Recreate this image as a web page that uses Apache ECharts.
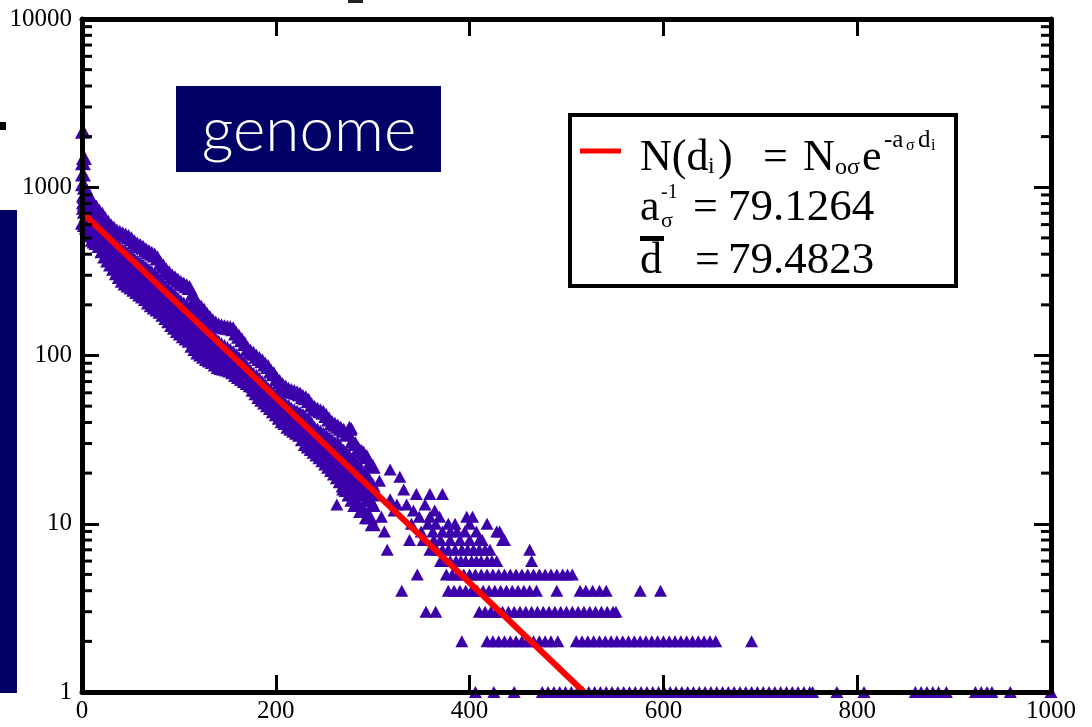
<!DOCTYPE html>
<html><head><meta charset="utf-8">
<script src="https://cdn.jsdelivr.net/npm/echarts@6/dist/echarts.min.js"></script>
<style>html,body{margin:0;padding:0;background:#fff}#chart{width:1092px;height:727px}</style>
</head><body><div id="chart"></div>
<script>
// ---- tick labels ----
const xTickLabels = [0, 200, 400, 600, 800, 1000];
const yTickLabels = [1, 10, 100, 1000, 10000];
const yMinorTickValues = [2,3,4,5,6,7,8,9,20,30,40,50,60,70,80,90,200,300,400,500,600,700,800,900,2000,3000,4000,5000,6000,7000,8000,9000];

// ---- dense band of the histogram (distance d, counts read at several heights) ----
const bandDist = [1,2,3,5,7,9,11,13,15,18,21,24,27,30,33,36,39,42,45,48,51,54,57,60,63,66,69,72,75,78,81,84,87,90,93,96,99,102,105,108,111,114,117,120,123,126,129,132,135,138,141,144,147,150,153,156,159,162,165,168,171,174,177,180,183,186,189,192,195,198,201,204,207,210,213,216,219,222,225,228,231,234,237,240,243,246,249,252,255,258,261,264,267,270,273,276,279,282,285,288,291,294,297,300];
const bandUpper = [2150,1500,1000,950,870,830,800,780,760,720,690,650,620,590,570,550,540,530,520,510,495,475,460,450,440,425,415,405,395,380,355,340,322,310,298,290,280,272,266,260,254,232,216,200,194,186,176,168,161,156,152,150,148,147,146,144,136,130,124,118,110,106,103,99,96,93,89,86,81,78,73,70,67,65,63,62,61,60,59,57,56,54,51,49,48,47,46,44,42,40,39,38,37,36,34,37,31,30,28,27,26,25,23,22];
const bandMidHigh = [1400,900,880,800,760,720,690,650,640,610,580,550,520,490,470,450,430,420,410,395,385,370,360,350,340,330,320,310,300,290,275,262,250,242,232,224,216,208,202,196,190,178,168,160,153,147,140,134,128,124,120,116,113,110,107,104,100,96,92,88,84,80,77,75,72,69,66,63,61,59,57,55,53,51,50,48,47,46,45,44,42,41,39,37,36,35,34,33,32,31,30,30,28,27,26,25,24,23,22,21,20,19,18,17];
const bandCenter = [1200,820,800,740,700,665,635,605,590,565,540,510,480,455,435,415,395,382,368,356,346,334,324,314,305,295,286,277,268,260,248,236,225,218,209,201,194,187,181,175,170,160,152,145,139,133,127,122,117,113,109,106,103,100,97,95,92,88,85,81,78,75,72,69,66,63,61,58,56,54,52,50,48,47,46,44,43,42,41,40,38,37,35,34,33,32,31,30,29,28,27,26,25,24,23,22,21,20,19,18,17,16,16,15];
const bandMidLow = [1050,760,720,690,640,610,580,560,540,520,500,470,440,420,400,380,360,345,330,320,310,300,290,280,272,262,255,245,238,230,222,212,202,195,186,178,171,165,160,154,150,142,136,130,124,119,114,110,106,102,99,96,93,90,88,86,84,81,78,75,72,69,66,63,60,58,56,54,52,50,48,46,44,43,42,40,39,38,37,36,34,33,32,31,30,29,28,27,26,25,24,23,22,21,20,19,18,17,16,15,15,14,14,13];
const bandLower = [620,630,600,580,560,520,490,480,470,450,420,390,370,350,330,310,295,280,270,262,255,248,240,232,226,218,208,200,194,189,183,176,168,161,153,147,141,136,131,127,123,115,110,105,102,99,96,94,92,89,86,85,84,83,82,80,77,75,73,71,69,67,63,60,57,55,53,51,49,47,45,43,41,40,38,37,36,35,34,32,30,29,28,27,26,25,24,23,22,21,20,19,18,17,16,15,14,13,13,12,12,11,11,10];

// ---- isolated points in the sparse tail (distance, count) ----
const extraDist  = [263,269,278,284,290,303,307,309,318,318,322,325,328,332,335,342,345,348,354,359,359,364,369,372,397,403];
const extraCount = [13, 16, 37, 13, 27, 15, 18, 11, 21, 14, 12, 13, 19, 16, 13, 12, 15, 11, 13, 15, 11, 12, 11, 15, 11, 11];

// ---- integer-count rows: distances at which a count of 10, 9, ... 1 occurs ----
const row10Dist = [300,340,357,365,378,385,400,418];
const row9Dist  = [312,350,362,372,380,387,395,407,428,431];
const row8Dist  = [338,352,363,370,380,390,400,410,413,434,436];
const row7Dist  = [315,359,366,372,378,385,392,398,404,410,416,421,462];
const row6Dist  = [370,375,380,386,391,396,402,407,412,418,423,428,464];
const row5Dist  = [346,376,382,388,394,400,406,412,418,424,430,436,442,448,454,460,466,472,478,484,490,496,501,506];
const row4Dist  = [330,378,384,390,396,402,408,414,420,426,432,438,444,450,456,462,469,490,514,520,527,534,541,576,597];
const row3Dist  = [355,365,410,416,422,428,434,440,446,452,458,464,470,476,482,488,494,500,506,512,518,524,530,536,542,548,551];
const row2Dist  = [392,418,424,430,436,442,448,454,460,466,472,478,484,491,510,516,522,528,534,540,546,552,558,564,570,576,582,588,594,600,606,612,618,624,630,636,642,648,654,691];
const row1Dist  = [406,425,446,475,481,487,493,499,505,511,517,523,529,535,541,547,553,559,565,571,577,583,589,595,601,607,613,619,625,631,637,643,649,655,661,667,673,679,685,691,697,703,709,715,721,727,733,739,745,751,754,779,807,860,866,872,878,884,892,922,928,934,939,958,1000];

// ---- fitted exponential N(d) = N0 exp(-d / 79.1264), end points ----
const fitDist  = [0, 518];
const fitCount = [710, 1];

// ---- assemble ----
const bandPoints = [];
bandDist.forEach((d, i) => {
  bandPoints.push([d, bandUpper[i]], [d, bandMidHigh[i]], [d, bandCenter[i]], [d, bandMidLow[i]], [d, bandLower[i]]);
});
const tailPoints = [];
extraDist.forEach((d, i) => tailPoints.push([d, extraCount[i]]));
const rows = [[10,row10Dist],[9,row9Dist],[8,row8Dist],[7,row7Dist],[6,row6Dist],[5,row5Dist],[4,row4Dist],[3,row3Dist],[2,row2Dist],[1,row1Dist]];
rows.forEach(([n, arr]) => arr.forEach(d => tailPoints.push([d, n])));
const fitData = fitDist.map((d, i) => [d, fitCount[i]]);

const PURPLE = '#3c00aa';
const SERIF = '"Liberation Serif", "Times New Roman", serif';
const axisLine = {show: true, onZero: false, lineStyle: {color: '#000', width: 5}};
const axisTick = {show: true, inside: true, length: 17, lineStyle: {color: '#000', width: 3}};
const plainLabel = v => String(Math.round(v));

function t(x, y, s, size, extra) {
  return Object.assign({type: 'text', x: x, y: y, z: 20,
    style: {text: s, font: size + 'px ' + SERIF, fill: '#000', textAlign: 'left', textVerticalAlign: 'middle'}}, extra || {});
}

const chart = echarts.init(document.getElementById('chart'), null, {renderer: 'canvas'});
chart.setOption({
  animation: false,
  backgroundColor: '#fff',
  grid: {left: 82, right: 41, top: 19, bottom: 35, containLabel: false},
  xAxis: [
    {type: 'value', position: 'bottom', min: xTickLabels[0], max: xTickLabels[xTickLabels.length - 1], interval: 200,
     axisLine: axisLine, axisTick: axisTick, splitLine: {show: false}, z: 5,
     axisLabel: {color: '#000', fontFamily: SERIF, fontSize: 25, margin: 7, formatter: plainLabel}},
    {type: 'value', position: 'top', min: xTickLabels[0], max: xTickLabels[xTickLabels.length - 1], interval: 200,
     axisLine: axisLine, axisTick: axisTick, splitLine: {show: false}, axisLabel: {show: false}, z: 5}
  ],
  yAxis: [
    {type: 'log', logBase: 10, position: 'left', min: yTickLabels[0], max: yTickLabels[yTickLabels.length - 1],
     axisLine: axisLine, axisTick: axisTick, splitLine: {show: false}, z: 5,
     axisLabel: {color: '#000', fontFamily: SERIF, fontSize: 25, margin: 10, formatter: plainLabel}},
    {type: 'log', logBase: 10, position: 'right', min: yTickLabels[0], max: yTickLabels[yTickLabels.length - 1],
     axisLine: axisLine, axisTick: axisTick, splitLine: {show: false}, axisLabel: {show: false}, z: 5}
  ],
  series: [
    {type: 'scatter', data: bandPoints, symbol: 'triangle', symbolSize: [16, 15],
     itemStyle: {color: PURPLE, opacity: 1}, clip: false, z: 2, silent: true},
    {type: 'scatter', data: tailPoints, symbol: 'triangle', symbolSize: [13, 12],
     itemStyle: {color: PURPLE, opacity: 1}, clip: false, z: 2, silent: true},
    {type: 'line', data: fitData, showSymbol: false, symbol: 'none',
     lineStyle: {color: '#ff0000', width: 6}, z: 3, silent: true},
    {type: 'custom', data: yMinorTickValues.map(v => [0, v]), clip: false, z: 6, silent: true,
     renderItem: function (params, api) {
       const y = api.coord([0, api.value(1)])[1];
       const cs = params.coordSys;
       return {type: 'group', children: [
         {type: 'line', shape: {x1: cs.x, y1: y, x2: cs.x + 10, y2: y}, style: {stroke: '#000', lineWidth: 3}},
         {type: 'line', shape: {x1: cs.x + cs.width - 10, y1: y, x2: cs.x + cs.width, y2: y}, style: {stroke: '#000', lineWidth: 3}}
       ]};
     }}
  ],
  graphic: [
    {type: 'rect', shape: {x: 0, y: 210, width: 17, height: 483}, style: {fill: '#000066'}, z: 20},
    {type: 'rect', shape: {x: 0, y: 122, width: 6, height: 8}, style: {fill: '#000'}, z: 20},
    {type: 'rect', shape: {x: 348, y: 0, width: 15, height: 3}, style: {fill: '#222'}, z: 20},
    {type: 'rect', shape: {x: 176, y: 86, width: 265, height: 86}, style: {fill: '#000066'}, z: 20},
    {type: 'text', x: 309, y: 131, z: 21,
     style: {text: 'genome', font: '300 62px Lato, "Open Sans", sans-serif', fill: '#fff', textAlign: 'center', textVerticalAlign: 'middle'}},
    {type: 'rect', shape: {x: 570, y: 115, width: 386, height: 171}, style: {fill: '#fff', stroke: '#000', lineWidth: 4}, z: 19},
    {type: 'line', shape: {x1: 580, y1: 151, x2: 621, y2: 151}, style: {stroke: '#ff0000', lineWidth: 5}, z: 20},
    t(640, 158, 'N(d', 44),
    t(708, 167, 'i', 24),
    t(718, 158, ')', 44),
    t(763, 158, '=', 44),
    t(803, 158, 'N', 44),
    t(835, 168, 'oσ', 24),
    t(862, 158, 'e', 44),
    t(884, 140, '-a', 25),
    t(906, 146, 'σ', 16),
    t(918, 140, 'd', 25),
    t(931, 146, 'i', 16),
    t(640, 208, 'a', 44),
    t(661, 193, '-1', 20),
    t(661, 221, 'σ', 22),
    t(693, 208, '=', 44),
    t(728, 208, '79.1264', 45),
    t(640, 261, 'd', 44),
    {type: 'rect', shape: {x: 640, y: 236, width: 24, height: 5}, style: {fill: '#000'}, z: 20},
    t(695, 261, '=', 44),
    t(728, 261, '79.4823', 45)
  ]
});
</script>
</body></html>
